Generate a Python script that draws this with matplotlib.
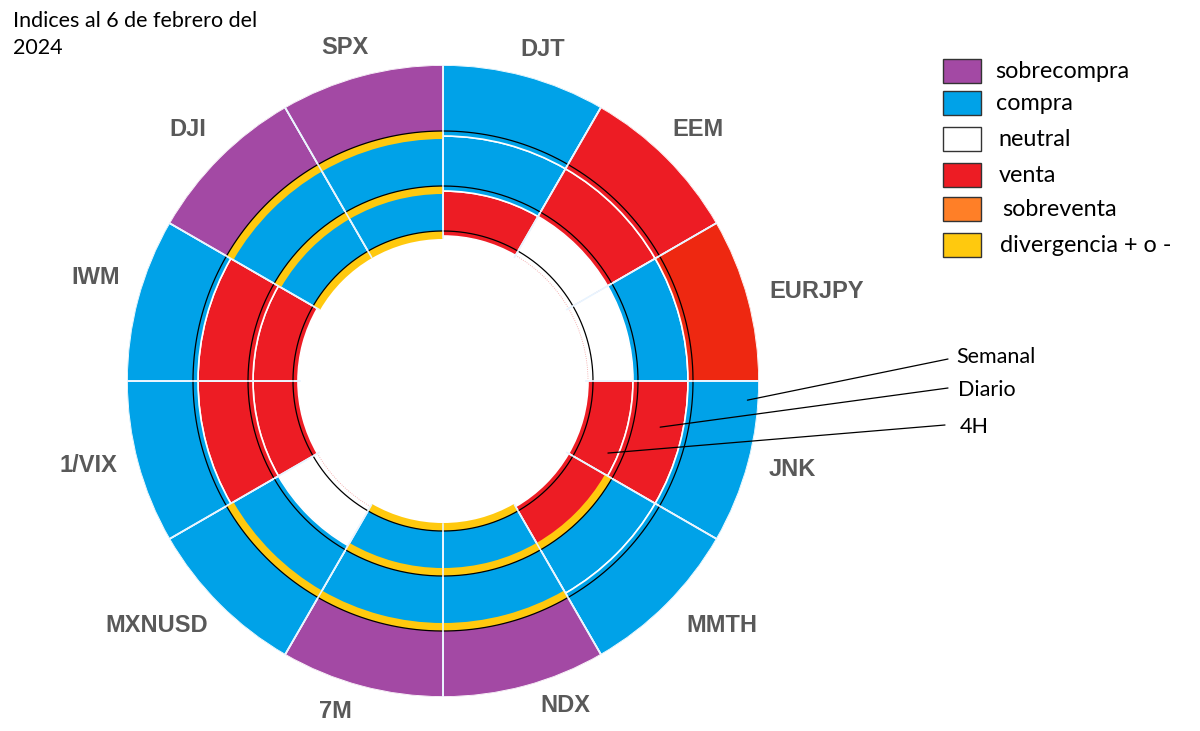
import numpy as np
import matplotlib
matplotlib.use("Agg")
import matplotlib.pyplot as plt
from matplotlib.patches import Rectangle

# ---------------- data ----------------
categories = ['DJT', 'EEM', 'EURJPY', 'JNK', 'MMTH', 'NDX', '7M',
              'MXNUSD', '1/VIX', 'IWM', 'DJI', 'SPX']

semanal = ['compra', 'venta', 'venta2', 'compra', 'compra', 'sobrecompra',
           'sobrecompra', 'compra', 'compra', 'compra', 'sobrecompra', 'sobrecompra']
diario = ['compra', 'venta', 'compra', 'venta', 'compra', 'compra',
          'compra', 'compra', 'venta', 'venta', 'compra', 'compra']
h4 = ['venta', 'neutral', 'neutral', 'venta', 'venta', 'compra',
      'compra', 'neutral', 'venta', 'venta', 'compra', 'compra']

div_semanal = [0, 0, 0, 0, 0, 1, 1, 1, 0, 0, 1, 1]
div_diario = [0, 0, 0, 0, 1, 1, 1, 0, 0, 0, 1, 1]
div_h4 = [0, 0, 0, 0, 0, 1, 1, 0, 0, 0, 1, 1]

legend_labels = ['sobrecompra', 'compra', 'neutral', 'venta', 'sobreventa', 'divergencia + o -']
ring_names = ['Semanal', 'Diario', '4H']
title = 'Indices al 6 de febrero del\n2024'

# ---------------- style / layout ----------------
palette = {
    'sobrecompra': '#A349A4',
    'compra': '#00A2E8',
    'neutral': '#FFFFFF',
    'venta': '#ED1C24',
    'venta2': '#EE2811',
    'sobreventa': '#FF7F27',
    'divergencia + o -': '#FFC90E',
}
W, H = 1200, 731
CX, CY, R = 443, 381, 316

# label centres in pixels (x, y from top), same order as categories
label_px = [(543, 50), (698, 130), (817, 291), (792, 470), (722, 626), (565, 705),
            (335, 712), (157, 626), (88, 466), (96, 278), (188, 130), (345, 47)]

fig = plt.figure(figsize=(W / 100, H / 100), dpi=100)
ax = fig.add_axes([(CX - R) / W, (H - CY - R) / H, 2 * R / W, 2 * R / H], projection='polar')
ax.set_theta_zero_location('N')
ax.set_theta_direction(-1)
ax.set_ylim(0, R)
ax.set_axis_off()

n = len(categories)
theta = np.deg2rad(np.arange(n) * 360 / n + 180 / n)
width = np.deg2rad(360 / n)

rings = [(h4, div_h4, 145, 190), (diario, div_diario, 190, 245), (semanal, div_semanal, 245, 316)]
full = np.linspace(0, 2 * np.pi, 500)
for states, divs, r0, r1 in rings:
    for t, s in zip(theta, states):
        if s == 'neutral':
            ax.bar(t, r1 - r0, width=width, bottom=r0, color='white',
                   edgecolor='#F2A0A0', linewidth=0.6, linestyle=':', zorder=2)
        else:
            ax.bar(t, r1 - r0, width=width, bottom=r0, color=palette[s],
                   edgecolor='white', linewidth=1.2, zorder=2)
    for t, d in zip(theta, divs):
        if d:
            ax.bar(t, 8, width=width, bottom=r0 - 3, color=palette['divergencia + o -'],
                   edgecolor='none', zorder=3)
    ax.plot(full, np.full_like(full, r0 + 5), color='black', lw=0.9, zorder=4)

# radial separators
for t in theta - width / 2:
    ax.plot([t, t], [143, R], color='#E8F4FF', lw=1.2, zorder=5)

# category labels
for lab, (px, py) in zip(categories, label_px):
    fig.text(px / W, 1 - py / H, lab, ha='center', va='center', fontsize=17,
             fontweight='bold', color='#595959', family='Liberation Sans')

# title
fig.text(13 / W, 1 - 11 / H, title, ha='left', va='top', fontsize=15.5, family='Lato',
         linespacing=1.45, color='black')

# legend
ly = [71, 103, 139, 175, 209, 245]
lx = [995, 996, 998, 999, 1002, 1000]
for lab, y, x in zip(legend_labels, ly, lx):
    fig.add_artist(Rectangle((943 / W, 1 - (y + 12) / H), 38 / W, 24 / H,
                             transform=fig.transFigure, facecolor=palette[lab],
                             edgecolor='#333333', linewidth=1.0))
    fig.text(x / W, 1 - y / H, lab, ha='left', va='center', fontsize=16.8,
             family='Lato', color='black')

# ring annotations
targets = [(np.deg2rad(93.6), 305), (np.deg2rad(102), 222), (np.deg2rad(113.6), 180)]
starts = [(948, 359), (948, 388), (945, 425)]
text_pos = [(956, 357), (958, 390), (960, 427)]
for name, (tt, rr), (sx, sy), (tx, ty) in zip(ring_names, targets, starts, text_pos):
    ax.annotate('', xy=(tt, rr), xycoords='data', xytext=(sx, H - sy),
                textcoords='figure pixels',
                arrowprops=dict(arrowstyle='-', color='black', lw=0.9,
                                shrinkA=0, shrinkB=0), annotation_clip=False)
    fig.text(tx / W, 1 - ty / H, name, ha='left', va='center', fontsize=15.5,
             family='Lato', color='black')

fig.savefig('out.png', dpi=100)
